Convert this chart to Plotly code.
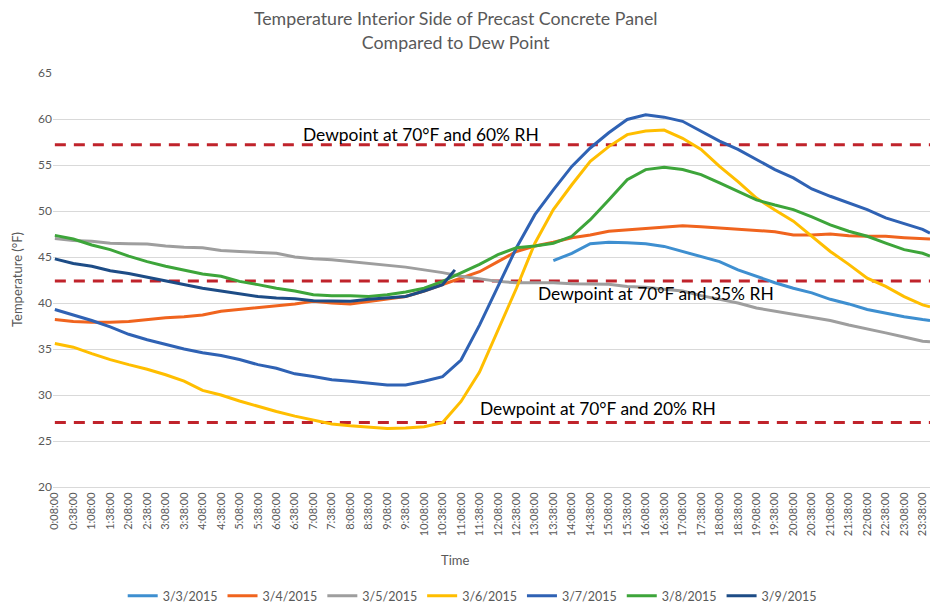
import plotly.graph_objects as go

# 30-minute sample times (also the x tick labels), plus the last reading at the right edge
time_labels = [
    "0:08:00", "0:38:00", "1:08:00", "1:38:00", "2:08:00", "2:38:00", "3:08:00", "3:38:00",
    "4:08:00", "4:38:00", "5:08:00", "5:38:00", "6:08:00", "6:38:00", "7:08:00", "7:38:00",
    "8:08:00", "8:38:00", "9:08:00", "9:38:00", "10:08:00", "10:38:00", "11:08:00", "11:38:00",
    "12:08:00", "12:38:00", "13:08:00", "13:38:00", "14:08:00", "14:38:00", "15:08:00", "15:38:00",
    "16:08:00", "16:38:00", "17:08:00", "17:38:00", "18:08:00", "18:38:00", "19:08:00", "19:38:00",
    "20:08:00", "20:38:00", "21:08:00", "21:38:00", "22:08:00", "22:38:00", "23:08:00", "23:38:00",
]
sample_times = time_labels + ["23:50:00"]

temp_0303 = [None] * 27 + [
    44.6, 45.4, 46.45, 46.6, 46.55, 46.45, 46.15, 45.6, 45.1, 44.5, 43.6,
    42.9, 42.2, 41.6, 41.1, 40.4, 39.9, 39.3, 38.9, 38.5, 38.2, 38.1,
]
temp_0304 = [
    38.2, 38.0, 37.9, 37.9, 38.0, 38.2, 38.4, 38.5, 38.7, 39.1, 39.3, 39.45, 39.7, 39.9, 40.2, 40.0,
    39.9, 40.15, 40.4, 40.7, 41.3, 42.0, 42.7, 43.4, 44.5, 45.6, 46.2, 46.6, 47.1, 47.4, 47.8, 47.95,
    48.15, 48.3, 48.4, 48.3, 48.15, 48.0, 47.9, 47.75, 47.4, 47.4, 47.5, 47.3, 47.25, 47.25, 47.1, 46.95,
    46.95,
]
temp_0305 = [
    47.0, 46.8, 46.7, 46.5, 46.45, 46.4, 46.2, 46.05, 46.0, 45.7, 45.6, 45.5, 45.4, 45.0, 44.8, 44.7,
    44.5, 44.3, 44.1, 43.9, 43.6, 43.3, 42.9, 42.6, 42.35, 42.2, 42.2, 42.2, 42.1, 42.1, 42.05, 41.8,
    41.7, 41.5, 41.3, 40.8, 40.4, 40.0, 39.45, 39.1, 38.8, 38.4, 38.1, 37.6, 37.2, 36.75, 36.3, 35.85,
    35.8,
]
temp_0306 = [
    35.6, 35.2, 34.5, 33.85, 33.3, 32.8, 32.2, 31.5, 30.5, 30.0, 29.35, 28.75, 28.2, 27.7, 27.25, 26.85,
    26.65, 26.5, 26.35, 26.4, 26.55, 27.0, 29.3, 32.5, 37.1, 41.6, 46.5, 50.15, 52.85, 55.4, 57.0, 58.3,
    58.7, 58.8, 57.9, 56.7, 54.85, 53.2, 51.4, 50.1, 48.9, 47.25, 45.6, 44.2, 42.7, 41.8, 40.7, 39.8,
    39.6,
]
temp_0307 = [
    39.3, 38.7, 38.1, 37.4, 36.6, 36.0, 35.5, 35.0, 34.6, 34.3, 33.85, 33.3, 32.9, 32.3, 32.0, 31.65,
    31.5, 31.3, 31.1, 31.1, 31.5, 32.0, 33.8, 37.6, 41.8, 46.0, 49.6, 52.3, 54.85, 56.85, 58.5, 59.95,
    60.45, 60.2, 59.75, 58.65, 57.6, 56.7, 55.6, 54.5, 53.6, 52.4, 51.6, 50.9, 50.15, 49.25, 48.6, 48.0,
    47.6,
]
temp_0308 = [
    47.35, 46.95, 46.3, 45.8, 45.1, 44.5, 44.0, 43.55, 43.15, 42.9, 42.35, 42.0, 41.6, 41.3, 40.9, 40.8,
    40.8, 40.7, 40.9, 41.2, 41.6, 42.35, 43.25, 44.2, 45.25, 46.0, 46.2, 46.5, 47.25, 49.05, 51.2, 53.4,
    54.5, 54.75, 54.5, 53.95, 53.05, 52.1, 51.2, 50.65, 50.15, 49.35, 48.5, 47.8, 47.25, 46.5, 45.8, 45.4,
    45.1,
]
times_0309 = time_labels[:22] + ["10:58:00"]
temp_0309 = [
    44.8, 44.3, 44.0, 43.5, 43.2, 42.8, 42.35, 42.0, 41.6, 41.3, 41.0, 40.7, 40.55, 40.45, 40.25, 40.2,
    40.2, 40.4, 40.55, 40.7, 41.3, 42.0, 43.6,
]

dewpoints = [57.2, 42.4, 27.0]
dewpoint_labels = ["Dewpoint at 70°F and 60% RH", "Dewpoint at 70°F and 35% RH", "Dewpoint at 70°F and 20% RH"]


def to_minutes(t):
    h, m, _ = t.split(":")
    return int(h) * 60 + int(m)


x_all = [to_minutes(t) for t in sample_times]
x_0309 = [to_minutes(t) for t in times_0309]
tick_vals = [to_minutes(t) for t in time_labels]

series = [
    ("3/3/2015", x_all, temp_0303, "#3E8FD0"),
    ("3/4/2015", x_all, temp_0304, "#F0641E"),
    ("3/5/2015", x_all, temp_0305, "#9E9E9E"),
    ("3/6/2015", x_all, temp_0306, "#FFBE00"),
    ("3/7/2015", x_all, temp_0307, "#2F62B4"),
    ("3/8/2015", x_all, temp_0308, "#3DA53A"),
    ("3/9/2015", x_0309, temp_0309, "#1D4C86"),
]

FONT = "Lato, 'Open Sans', sans-serif"
GREY = "#595959"

fig = go.Figure()

for dp in dewpoints:
    fig.add_trace(go.Scatter(
        x=[x_all[0], x_all[-1]], y=[dp, dp], mode="lines",
        line=dict(color="#C0232B", width=3, dash="11px,8px"),
        showlegend=False, hoverinfo="skip",
    ))

for name, xs, ys, color in series:
    fig.add_trace(go.Scatter(
        x=xs, y=ys, name=name, mode="lines",
        line=dict(color=color, width=3),
        connectgaps=False,
    ))

# dewpoint captions (x in minutes, y in °F)
label_pos = [(603, 58.3), (984, 41.0), (890, 28.5)]
for text, (lx, ly) in zip(dewpoint_labels, label_pos):
    fig.add_annotation(x=lx, y=ly, text=text, showarrow=False,
                       xanchor="center", yanchor="middle",
                       font=dict(family=FONT, size=17.4, color="#000000"))

fig.add_annotation(xref="paper", yref="paper", x=0.458, y=-0.176, text="Time",
                   xanchor="center", yanchor="middle",
                   showarrow=False, font=dict(family=FONT, size=13, color=GREY))
fig.add_annotation(xref="paper", yref="paper", x=-0.041, y=0.5, text="Temperature (°F)",
                   xanchor="center", yanchor="middle",
                   textangle=-90, showarrow=False, font=dict(family=FONT, size=13, color=GREY))

fig.update_layout(
    width=930,
    height=604,
    margin=dict(l=53, r=0, t=73, b=117, autoexpand=False),
    paper_bgcolor="white",
    plot_bgcolor="white",
    font=dict(family=FONT, color=GREY),
    title=dict(
        text="Temperature Interior Side of Precast Concrete Panel<br>Compared to Dew Point",
        x=0.49, xanchor="center", y=0.958, yanchor="middle",
        font=dict(family=FONT, size=17.8, color=GREY),
    ),
    xaxis=dict(
        range=[5, 1430],
        tickvals=tick_vals,
        ticktext=time_labels,
        tickangle=-90,
        tickfont=dict(size=11, color=GREY),
        showgrid=False,
        zeroline=False,
        showline=True,
        linecolor="#D9D9D9",
        ticks="",
        automargin=False,
    ),
    yaxis=dict(
        range=[20, 65],
        dtick=5,
        tickfont=dict(size=12, color=GREY),
        gridcolor="#D9D9D9",
        gridwidth=1,
        zeroline=False,
        showline=False,
        ticks="",
        automargin=False,
    ),
    legend=dict(
        orientation="h",
        x=0.478, xanchor="center",
        yref="container", y=0.013, yanchor="middle",
        font=dict(family=FONT, size=12.5, color=GREY),
        itemwidth=30,
    ),
    showlegend=True,
)

fig.write_html("out.html", config={"displayModeBar": False})

# drop the browser's default body margin so the 930x604 figure fits the window exactly
with open("out.html", encoding="utf-8") as f:
    page = f.read()
page = page.replace("<body>", '<body style="margin:0;overflow:hidden">', 1)
with open("out.html", "w", encoding="utf-8") as f:
    f.write(page)
